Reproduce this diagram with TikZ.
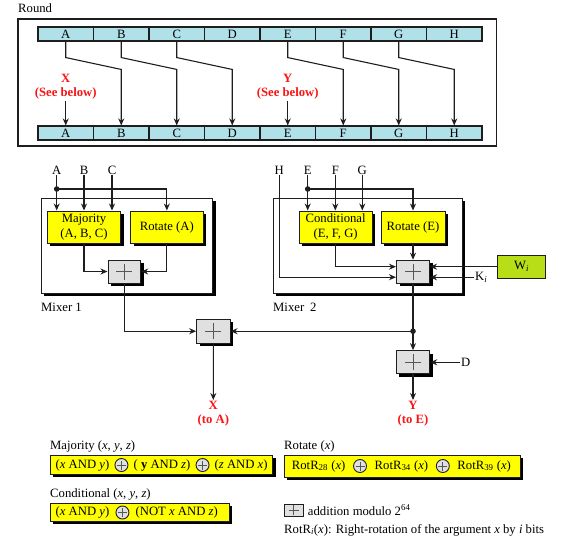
\documentclass[tikz,border=0pt]{standalone}
\usepackage{fontspec}
\setmainfont{Liberation Serif}
\usetikzlibrary{shadows,arrows.meta,calc,positioning}
\definecolor{barblue}{RGB}{176,224,232}
\definecolor{ylw}{RGB}{255,255,0}
\definecolor{grn}{RGB}{184,222,24}
\definecolor{addgray}{RGB}{224,224,224}
\definecolor{lncol}{RGB}{30,30,30}
\definecolor{redlab}{RGB}{250,20,20}
\begin{document}
\begin{tikzpicture}[x=1pt,y=-1pt, font=\fontsize{12.7}{14}\selectfont,
 arr/.style={draw=lncol, line width=1.1pt, -{Stealth[length=7pt,width=6pt]}},
 ln/.style={draw=lncol, line width=1.1pt},
 cell/.style={draw=lncol, fill=barblue, minimum width=55.5pt, minimum height=14pt, inner sep=0pt, line width=1.1pt},
 shad/.style={drop shadow={shadow xshift=3pt, shadow yshift=-3pt, fill=black, opacity=1}},
 mixbox/.style={draw=lncol, fill=white, shad, inner sep=0pt, line width=1pt},
 ybox/.style={draw=lncol, fill=ylw, shad, inner sep=0pt, align=center, line width=1pt, font=\fontsize{12.7}{15}\selectfont},
 plusmark/.style={path picture={
   \draw[lncol!75, line width=0.8pt] ([xshift=-#1]path picture bounding box.center) -- ([xshift=#1]path picture bounding box.center);
   \draw[lncol!75, line width=0.8pt] ([yshift=-#1]path picture bounding box.center) -- ([yshift=#1]path picture bounding box.center);}},
 adder/.style={draw=lncol, fill=addgray, shad, inner sep=0pt, line width=1pt, plusmark=8pt},
 cplus/.style={circle, draw=lncol, fill=addgray, minimum size=13pt, inner sep=0pt, line width=0.9pt, plusmark=4.5pt},
 lbl/.style={inner sep=1pt},
 redl/.style={text=redlab, font=\bfseries\fontsize{12.7}{14}\selectfont, align=center, inner sep=1pt},
 ftxt/.style={inner sep=0pt}]
\useasboundingbox (0,0) rectangle (575,538);

% ---------- Round ----------
\node[anchor=base west, inner sep=0pt] (roundlbl) at (18,12.5) {Round};
\node[draw=lncol, line width=1.3pt, minimum width=478.7pt, minimum height=127pt, inner sep=0pt] (roundbox) at (257.35,82.5) {};
\foreach \l [count=\i from 0] in {A,B,C,D,E,F,G,H} {
  \node[cell] (t\l) at ({65.75+55.5*\i},34) {\l};
  \node[cell] (b\l) at ({65.75+55.5*\i},133) {\l};
}
\foreach \a/\b in {A/B,B/C,C/D,E/F,F/G,G/H}
  \draw[arr] (t\a.south) -- ++(0,16) -- ($(b\b.north)+(0,-56)$) -- (b\b.north);
\node[redl] (xlab) at (65.75,87) {X\\(See below)};
\node[redl] (ylab) at (287.75,87) {Y\\(See below)};
\draw[arr] (xlab.south) -- (bA.north);
\draw[arr] (ylab.south) -- (bE.north);

% ---------- Mixer 1 ----------
\node[mixbox, minimum width=171.7pt, minimum height=95pt] (mix1) at (126.85,245.5) {};
\node[ybox, minimum width=73.4pt, minimum height=32pt] (maj) at (84,227) {Majority\\(A, B, C)};
\node[ybox, minimum width=72.3pt, minimum height=32pt] (rotA) at (166.85,227) {Rotate (A)};
\node[adder, minimum width=32.7pt, minimum height=23pt] (add1) at (124.35,271.5) {};
\node[lbl] (lA) at (56.7,170) {A};
\node[lbl] (lB) at (84,170) {B};
\node[lbl] (lC) at (112,170) {C};
\draw[arr] (lA.south) -- (maj.north -| lA);
\draw[arr] (lB.south) -- (maj.north -| lB);
\draw[arr] (lC.south) -- (maj.north -| lC);
\coordinate (d1) at (56.7,189);
\fill[lncol] (d1) circle (2.8pt);
\draw[arr] (d1) -| (rotA.north);
\draw[arr] (maj.south) |- (add1.west);
\draw[arr] (rotA.south) |- (add1.east);
\node[anchor=west, inner sep=0pt] (m1l) at (41,307.7) {Mixer 1};

% ---------- Mixer 2 ----------
\node[mixbox, minimum width=189pt, minimum height=95pt] (mix2) at (367.8,245.5) {};
\node[ybox, minimum width=73.3pt, minimum height=32pt] (cond) at (335.65,227) {Conditional\\(E, F, G)};
\node[ybox, minimum width=64pt, minimum height=32pt] (rotE) at (413,227) {Rotate (E)};
\node[adder, minimum width=33pt, minimum height=23pt] (add2) at (413,271.7) {};
\node[lbl] (lH) at (279.3,170) {H};
\node[lbl] (lE) at (307.7,170) {E};
\node[lbl] (lF) at (335.3,170) {F};
\node[lbl] (lG) at (362.3,170) {G};
\draw[arr] (lE.south) -- (cond.north -| lE);
\draw[arr] (lF.south) -- (cond.north -| lF);
\draw[arr] (lG.south) -- (cond.north -| lG);
\coordinate (d2) at (307.7,189);
\fill[lncol] (d2) circle (2.8pt);
\draw[arr] (d2) -| (rotE.north);
\draw[arr] (rotE.south) -- (add2.north);
\draw[arr] (cond.south) |- ([yshift=5pt]add2.west);
\draw[arr] (lH.south) |- ([yshift=-5.5pt]add2.west);
\node[draw=lncol, fill=grn, minimum width=48.4pt, minimum height=23.3pt, inner sep=0pt, line width=1pt] (wi) at (521.5,266.7) {W\textsubscript{\itshape i}};
\draw[arr] (wi.west) -- (wi.west -| add2.east);
\node[lbl, anchor=west] (ki) at (474,277.3) {K\textsubscript{\itshape i}};
\draw[arr] (ki.west) -- (ki.west -| add2.east);
\node[anchor=west, inner sep=0pt] (m2l) at (273,307.7) {Mixer\hspace{6pt}2};

% ---------- Final adders ----------
\coordinate (d3) at (413,331.2);
\node[adder, minimum width=33.3pt, minimum height=24.3pt] (add3) at (213.35,331.2) {};
\node[adder, minimum width=33.3pt, minimum height=23.3pt] (add4) at (413,362.3) {};
\draw[ln] (add2.south) -- (d3);
\fill[lncol] (d3) circle (2.8pt);
\draw[arr] (d3) -- (add3.east);
\draw[arr] (add1.south) |- (add3.west);
\draw[arr] (d3) -- (add4.north);
\node[lbl, anchor=west] (dl) at (460,362.3) {D};
\draw[arr] (dl.west) -- (add4.east);
\node[redl] (xo) at (213.3,413.7) {X\\(to A)};
\node[redl] (yo) at (413,413.7) {Y\\(to E)};
\draw[arr] (add3.south) -- (xo.north);
\draw[arr] (add4.south) -- (yo.north);

% ---------- Definitions ----------
\node[anchor=base west, inner sep=0pt] (majt) at (50,449) {Majority (\textit{x}, \textit{y}, \textit{z})};
\node[ybox, minimum width=222.7pt, minimum height=19pt] (majf) at (161.35,464.5) {};
\node[ftxt, anchor=west] (mf1) at (55.5,465) {(\textit{x} AND \textit{y})};
\node[cplus, right=5pt of mf1] (mc1) {};
\node[ftxt, right=5pt of mc1] (mf2) {( \textbf{y} AND \textit{z})};
\node[cplus, right=5pt of mf2] (mc2) {};
\node[ftxt, right=5pt of mc2] (mf3) {(\textit{z} AND \textit{x})};

\node[anchor=base west, inner sep=0pt] (condt) at (50,497) {Conditional (\textit{x}, \textit{y}, \textit{z})};
\node[ybox, minimum width=179.3pt, minimum height=18pt] (condf) at (139.65,512) {};
\node[ftxt, anchor=west] (cf1) at (55.5,512.5) {(\textit{x} AND \textit{y})};
\node[cplus, right=6pt of cf1] (cc1) {};
\node[ftxt, right=6pt of cc1] (cf2) {(NOT \textit{x} AND \textit{z})};

\node[anchor=base west, inner sep=0pt] (rott) at (284,449) {Rotate (\textit{x})};
\node[ybox, minimum width=236pt, minimum height=22pt] (rotf) at (402,466) {};
\node[ftxt, anchor=west] (rf1) at (291.7,466) {RotR\textsubscript{28} (\textit{x})};
\node[cplus, right=7.5pt of rf1] (rc1) {};
\node[ftxt, right=7.5pt of rc1] (rf2) {RotR\textsubscript{34} (\textit{x})};
\node[cplus, right=7.5pt of rf2] (rc2) {};
\node[ftxt, right=7.5pt of rc2] (rf3) {RotR\textsubscript{39} (\textit{x})};

\node[draw=lncol, fill=addgray, minimum width=19.3pt, minimum height=12pt, inner sep=0pt, line width=0.9pt, plusmark=5pt] (leg) at (293.65,510) {};
\node[ftxt, right=4pt of leg] (legt) {addition modulo 2\textsuperscript{64}};
\node[anchor=base west, inner sep=0pt] (rotr) at (284,533) {RotR\textsubscript{\itshape i}(\textit{x}): Right-rotation of the argument \textit{x} by \textit{i} bits};
\end{tikzpicture}
\end{document}
